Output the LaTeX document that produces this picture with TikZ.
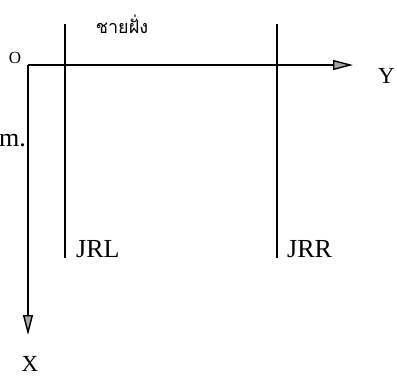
\documentclass[tikz,border=0pt]{standalone}
\usepackage{fontspec}
\setmainfont{Liberation Serif}
\newfontfamily\thaifont[Script=Thai]{Loma}
\usetikzlibrary{arrows.meta}
\begin{document}
\begin{tikzpicture}[x=1pt,y=-1pt,
  axis/.style={line width=1.4pt,-{Triangle[length=20pt,width=10pt,fill=gray!70]}},
  wall/.style={line width=1.4pt},
  lbl/.style={font=\fontsize{26}{28}\selectfont,inner sep=0pt},
  axlbl/.style={font=\fontsize{23}{25}\selectfont,inner sep=0pt}]
\useasboundingbox (0,0) rectangle (397,376);
\coordinate (O) at (28,65);
\coordinate (Yend) at (353,65);
\coordinate (Xend) at (28,335);
\coordinate (Lt) at (65,24);
\coordinate (Lb) at (65,258);
\coordinate (Rt) at (277,24);
\coordinate (Rb) at (277,258);
\draw[wall] (Lt) -- (Lb);
\draw[wall] (Rt) -- (Rb);
\draw[axis] (O) -- (Yend);
\draw[axis] (O) -- (Xend);
\node[lbl,anchor=base west] (jrl) at (76,257) {JRL};
\node[lbl,anchor=base west] (jrr) at (287,257) {JRR};
\node[axlbl,anchor=base west] (Ylab) at (378,83) {Y};
\node[axlbl,anchor=base] (Xlab) at (30,371) {X};
\node[font=\fontsize{17}{18}\selectfont,inner sep=0pt] (Olab) at (15,58) {O};
\node[lbl,anchor=base east] (mlab) at (26,146) {m.};
\node[font=\thaifont\fontsize{18}{19}\selectfont,inner sep=0pt] (shore) at (122,24) {ชายฝั่ง};
\end{tikzpicture}
\end{document}
